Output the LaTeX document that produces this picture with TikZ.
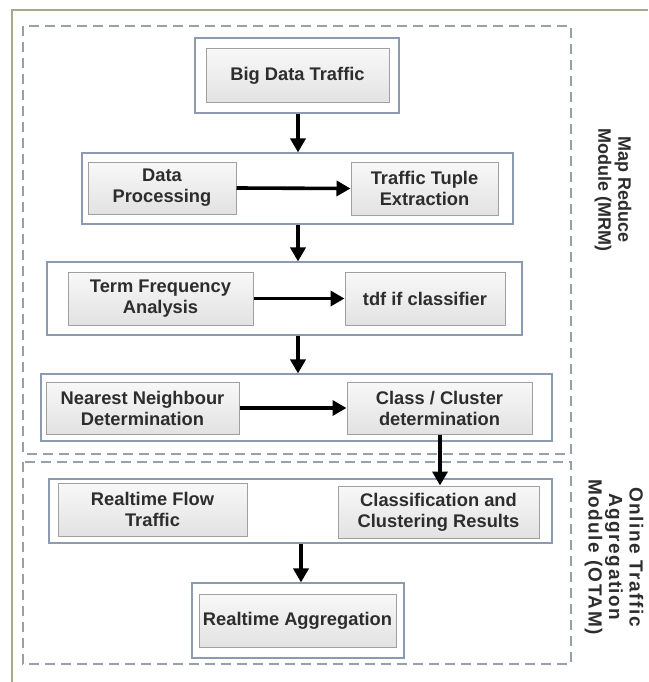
\documentclass[tikz,border=0pt]{standalone}
\usepackage{fontspec}
\setmainfont{Liberation Sans}
\usetikzlibrary{arrows.meta}
\definecolor{framec}{RGB}{164,171,136}
\definecolor{dashc}{RGB}{150,160,170}
\definecolor{outerc}{RGB}{140,155,175}
\definecolor{innerc}{RGB}{160,160,160}
\definecolor{txtc}{RGB}{45,45,45}
\definecolor{topc}{RGB}{248,248,248}
\definecolor{botc}{RGB}{226,226,226}
\tikzset{
  rowbox/.style={draw=outerc, line width=1.1pt, fill=white, inner sep=0pt},
  stepbox/.style={draw=innerc, line width=1pt, top color=topc, bottom color=botc,
    inner sep=0pt, align=center, text=txtc,
    font=\fontsize{18.3}{21}\selectfont\bfseries},
  modbox/.style={draw=dashc, line width=1.1pt, dash pattern=on 10pt off 6pt},
  arr/.style={line width=3.6pt, -{Triangle[length=14pt,width=15pt]}},
  sidelabel/.style={rotate=-90, align=center, text=txtc,
    font=\fontsize{18}{20}\selectfont\bfseries}
}
\begin{document}
\begin{tikzpicture}[x=1pt,y=-1pt]
\useasboundingbox (0,0) rectangle (648,682);
\fill[white] (0,0) rectangle (648,682);
\draw[framec, line width=1.2pt] (12,682) -- (12,10) -- (648,10);
% module boxes
\draw[modbox] (23,26) rectangle (571,454);
\draw[modbox] (23,462) rectangle (571,664);
% Big data
\node[rowbox, minimum width=204pt, minimum height=75pt] (bdo) at (297,75.5) {};
\node[stepbox, minimum width=183pt, minimum height=54pt] (bdi) at (297.5,76) {Big Data Traffic};
% row 2
\node[rowbox, minimum width=431pt, minimum height=71pt] (r2o) at (297.5,188.5) {};
\node[stepbox, minimum width=148pt, minimum height=52pt] (dp) at (162,188) {Data\\Processing};
\node[stepbox, minimum width=147pt, minimum height=53pt] (tt) at (424.5,188.5) {Traffic Tuple\\Extraction};
% row 3
\node[rowbox, minimum width=475pt, minimum height=73pt] (r3o) at (284.5,298.5) {};
\node[stepbox, minimum width=185pt, minimum height=53pt] (tf) at (160.5,298.5) {Term Frequency\\Analysis};
\node[stepbox, minimum width=160pt, minimum height=53pt] (tdf) at (425,298.5) {tdf if classifier};
% row 4
\node[rowbox, minimum width=511pt, minimum height=67pt] (r4o) at (296.5,407.5) {};
\node[stepbox, minimum width=193pt, minimum height=52pt] (nn) at (142.5,408) {Nearest Neighbour\\Determination};
\node[stepbox, minimum width=185pt, minimum height=52pt] (cc) at (439.5,408) {Class / Cluster\\determination};
% row 5
\node[rowbox, minimum width=503pt, minimum height=64pt] (r5o) at (300.5,511) {};
\node[stepbox, minimum width=189pt, minimum height=53pt] (rf) at (152.5,509.5) {Realtime Flow\\Traffic};
\node[stepbox, minimum width=201pt, minimum height=52pt] (ccr) at (438.5,512) {Classification and\\Clustering Results};
% aggregation
\node[rowbox, minimum width=212pt, minimum height=75pt] (rao) at (298,620.5) {};
\node[stepbox, minimum width=197pt, minimum height=53pt] (rai) at (297.5,620.5) {Realtime Aggregation};
% side labels
\node[sidelabel] (mrm) at (613,190) {Map Reduce\\Module (MRM)};
\node[sidelabel, font=\fontsize{19}{20.5}\selectfont\bfseries\addfontfeatures{LetterSpace=8}] (otam) at (614,557) {Online Traffic\\Aggregation\\Module (OTAM)};
% arrows
\coordinate (ax) at (298,0);
\draw[arr] (bdo.south -| ax) -- (r2o.north -| ax);
\draw[arr] (dp.east) -- (tt.west);
\draw[arr] (r2o.south -| ax) -- (r3o.north -| ax);
\draw[arr] (tf.east) -- (tdf.west);
\draw[arr] (r3o.south -| ax) -- (r4o.north -| ax);
\draw[arr] (nn.east) -- (cc.west);
\draw[arr] (cc.south -| ccr.north) ++(1.5,0) coordinate (cs) (cs) -- (cs |- ccr.north);
\draw[arr] (r5o.south -| rao.north) ++(3,0) coordinate (rs) (rs) -- (rs |- rao.north);
\end{tikzpicture}
\end{document}
